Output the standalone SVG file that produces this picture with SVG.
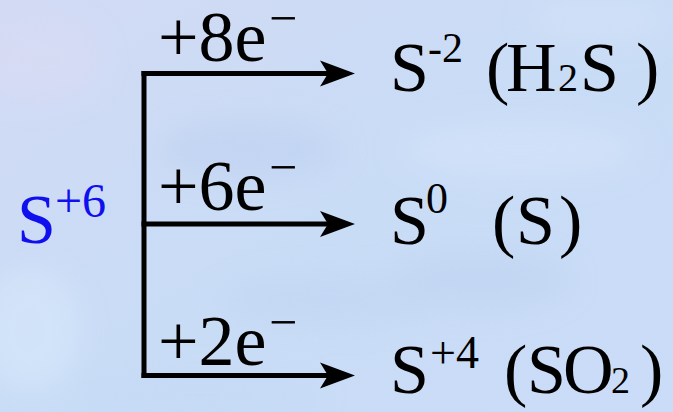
<svg xmlns="http://www.w3.org/2000/svg" width="673" height="412" viewBox="0 0 673 412">
<defs>
  <linearGradient id="bg" x1="0" y1="0" x2="1" y2="1">
    <stop offset="0" stop-color="#d2daf4"/>
    <stop offset="0.5" stop-color="#c9dcf6"/>
    <stop offset="1" stop-color="#cadcf7"/>
  </linearGradient>
  <filter id="blur" x="-50%" y="-50%" width="200%" height="200%">
    <feGaussianBlur stdDeviation="14"/>
  </filter>
  <marker id="arrow" markerUnits="userSpaceOnUse" markerWidth="36" markerHeight="28" viewBox="0 0 36 28" refX="18" refY="14" orient="auto">
    <path d="M0,1 L35,14 L0,27 L8,14 Z" fill="#000" stroke="none"/>
  </marker>
</defs>

<rect width="673" height="412" fill="url(#bg)"/>
<g filter="url(#blur)" opacity="0.55">
  <ellipse cx="40" cy="60" rx="60" ry="40" fill="#dcdcf4"/>
  <ellipse cx="30" cy="330" rx="50" ry="60" fill="#d8eafc"/>
  <ellipse cx="250" cy="150" rx="90" ry="30" fill="#bcd0f0"/>
  <ellipse cx="520" cy="150" rx="120" ry="30" fill="#d6e4fa"/>
  <ellipse cx="600" cy="20" rx="70" ry="25" fill="#d4e2f8"/>
  <ellipse cx="330" cy="300" rx="110" ry="25" fill="#c0d4f2"/>
  <ellipse cx="480" cy="280" rx="90" ry="30" fill="#bed2f0"/>
  <ellipse cx="200" cy="395" rx="120" ry="20" fill="#c2d8f4"/>
</g>

<g id="connectors">
  <g fill="none" stroke="#000" stroke-width="5">
    <path d="M144,71 V378"/>
    <path d="M141.5,73.5 H338" marker-end="url(#arrow)"/>
    <path d="M141.5,224 H338" marker-end="url(#arrow)"/>
    <path d="M141.5,375.5 H338" marker-end="url(#arrow)"/>
  </g>
  <text font-family="Liberation Serif" font-size="72" fill="#000" x="158" y="61">+8e<tspan x="269" y="34.5" font-size="50">−</tspan></text>
  <text font-family="Liberation Serif" font-size="72" fill="#000" x="158" y="210">+6e<tspan x="269" y="183.5" font-size="50">−</tspan></text>
  <text font-family="Liberation Serif" font-size="72" fill="#000" x="158" y="365">+2e<tspan x="269" y="338.5" font-size="50">−</tspan></text>
</g>

<g id="node-s6">
  <text font-family="Liberation Serif" font-size="70" fill="#1010ee" x="17" y="243">S<tspan x="55" y="217" font-size="48">+6</tspan></text>
</g>

<g id="node-h2s">
  <text font-family="Liberation Serif" font-size="70" fill="#000" x="390" y="91">S<tspan font-size="42" x="428" y="62">-2</tspan><tspan x="486" y="91">(</tspan><tspan x="506" y="91">H</tspan><tspan font-size="40" x="558" y="91">2</tspan><tspan x="580" y="91">S</tspan><tspan x="636" y="91">)</tspan></text>
</g>

<g id="node-s">
  <text font-family="Liberation Serif" font-size="70" fill="#000" x="390" y="244">S<tspan font-size="44" x="426" y="213">0</tspan><tspan x="492" y="244">(</tspan><tspan x="516" y="244">S</tspan><tspan x="559" y="244">)</tspan></text>
</g>

<g id="node-so2">
  <text font-family="Liberation Serif" font-size="70" fill="#000" x="390" y="393">S<tspan font-size="46" x="430" y="368">+4</tspan><tspan x="504" y="393">(</tspan><tspan x="527" y="393">S</tspan><tspan x="563" y="393">O</tspan><tspan font-size="38" x="611" y="393">2</tspan><tspan x="640" y="393">)</tspan></text>
</g>
</svg>
